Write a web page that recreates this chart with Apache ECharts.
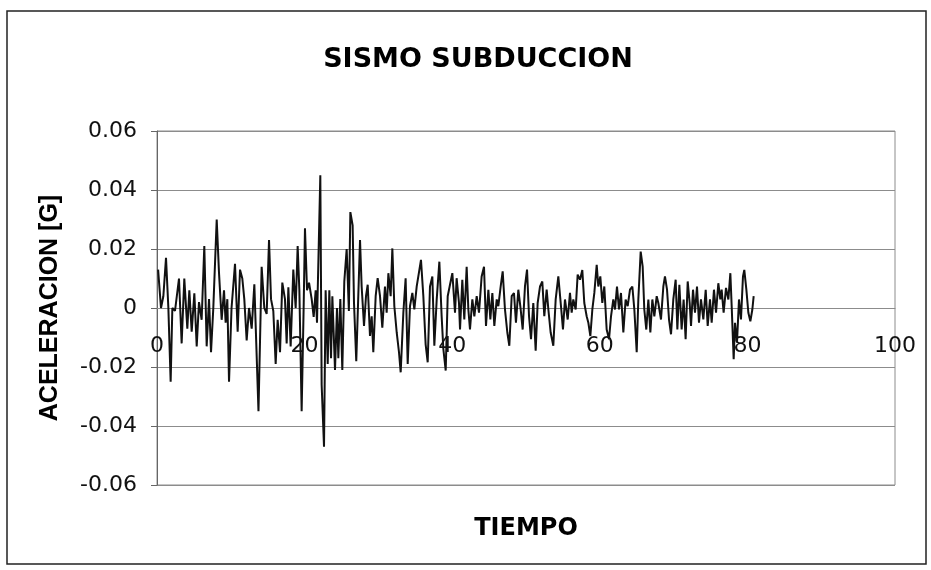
<!DOCTYPE html>
<html>
<head>
<meta charset="utf-8">
<script src="https://cdn.jsdelivr.net/npm/echarts@6/dist/echarts.min.js"></script>
<style>
  html, body { margin: 0; padding: 0; background: #ffffff; }
  #chart { width: 931px; height: 570px; }
</style>
</head>
<body>
<div id="chart"></div>
<script>
// Registro de aceleración: tiempo (s) y aceleración (g)
const tiempo = [
  0.15, 0.54, 0.86, 1.22, 1.54, 1.85, 2.08, 2.44, 2.98, 3.34,
  3.70, 4.11, 4.38, 4.70, 5.06, 5.38, 5.69, 6.05, 6.41, 6.73,
  7.05, 7.32, 7.63, 8.09, 8.40, 8.76, 9.08, 9.30, 9.53, 9.76,
  10.10, 10.57, 10.93, 11.25, 11.56, 11.83, 12.15, 12.47, 12.83, 13.19,
  13.75, 14.18, 14.54, 14.86, 15.18, 15.45, 15.76, 16.08, 16.35, 16.67,
  16.98, 17.34, 17.57, 17.80, 18.11, 18.47, 18.79, 19.06, 19.29, 19.60,
  19.87, 20.05, 20.33, 20.60, 20.96, 21.23, 21.50, 21.68, 22.13, 22.31,
  22.63, 22.85, 23.13, 23.35, 23.58, 23.76, 24.12, 24.39, 24.57, 24.84,
  25.11, 25.38, 25.70, 26.00, 26.20, 26.51, 26.69, 27.00, 27.51, 27.73,
  28.05, 28.32, 28.55, 28.86, 29.09, 29.31, 29.63, 29.90, 30.22, 30.53,
  30.89, 31.12, 31.35, 31.66, 31.89, 32.16, 32.48, 32.79, 33.02, 33.38,
  33.69, 33.97, 34.28, 34.60, 34.87, 35.19, 35.41, 35.77, 36.09, 36.40,
  36.68, 36.99, 37.31, 37.58, 37.90, 38.26, 38.57, 38.80, 39.12, 39.39,
  39.70, 40.02, 40.38, 40.60, 40.92, 41.06, 41.37, 41.64, 41.96, 42.19,
  42.41, 42.73, 43.00, 43.32, 43.63, 43.99, 44.31, 44.58, 44.90, 45.17,
  45.44, 45.71, 46.03, 46.25, 46.57, 46.84, 47.15, 47.47, 47.74, 48.06,
  48.37, 48.64, 48.96, 49.28, 49.55, 49.86, 50.14, 50.41, 50.68, 50.99,
  51.31, 51.58, 51.90, 52.21, 52.48, 52.80, 53.03, 53.34, 53.70, 54.02,
  54.38, 54.74, 55.01, 55.28, 55.65, 55.96, 56.19, 56.41, 56.73, 57.00,
  57.32, 57.63, 57.90, 58.22, 58.45, 58.72, 58.99, 59.26, 59.58, 59.80,
  60.07, 60.34, 60.61, 60.93, 61.25, 61.52, 61.83, 62.06, 62.33, 62.60,
  62.87, 63.19, 63.50, 63.78, 64.09, 64.41, 64.68, 65.00, 65.22, 65.54,
  65.81, 66.03, 66.30, 66.58, 66.85, 67.12, 67.39, 67.71, 67.93, 68.29,
  68.61, 68.83, 69.11, 69.38, 69.65, 69.96, 70.28, 70.51, 70.78, 71.09,
  71.36, 71.63, 71.91, 72.18, 72.36, 72.63, 72.90, 73.17, 73.44, 73.71,
  74.03, 74.35, 74.62, 74.93, 75.16, 75.47, 75.75, 76.06, 76.33, 76.51,
  76.78, 77.10, 77.42, 77.69, 77.87, 78.14, 78.32, 78.59, 78.86, 79.13,
  79.40, 79.58, 79.86, 80.13, 80.40, 80.67, 80.85
];

const aceleracion = [
  0.0130, 0.0000, 0.0040, 0.0170, 0.0000, -0.0250, 0.0000, -0.0010, 0.0100, -0.0120,
  0.0100, -0.0070, 0.0060, -0.0080, 0.0050, -0.0130, 0.0020, -0.0040, 0.0210, -0.0130,
  0.0030, -0.0150, 0.0000, 0.0300, 0.0120, -0.0040, 0.0060, -0.0050, 0.0030, -0.0250,
  0.0000, 0.0150, -0.0080, 0.0130, 0.0100, 0.0030, -0.0110, 0.0000, -0.0070, 0.0080,
  -0.0350, 0.0140, 0.0000, -0.0020, 0.0230, 0.0030, -0.0010, -0.0190, -0.0040, -0.0150,
  0.0086, 0.0030, -0.0120, 0.0070, -0.0130, 0.0130, 0.0000, 0.0210, 0.0060, -0.0350,
  0.0000, 0.0270, 0.0060, 0.0086, 0.0030, -0.0030, 0.0060, -0.0050, 0.0450, -0.0260,
  -0.0470, 0.0060, -0.0190, 0.0060, -0.0170, 0.0040, -0.0210, 0.0000, -0.0170, 0.0030,
  -0.0210, 0.0090, 0.0200, -0.0010, 0.0325, 0.0280, 0.0020, -0.0180, 0.0230, 0.0073,
  -0.0061, 0.0040, 0.0079, -0.0095, -0.0028, -0.0150, 0.0040, 0.0101, 0.0040, -0.0067,
  0.0073, -0.0016, 0.0118, 0.0040, 0.0202, 0.0006, -0.0083, -0.0150, -0.0218, -0.0016,
  0.0101, -0.0190, 0.0006, 0.0051, -0.0005, 0.0073, 0.0107, 0.0163, 0.0040, -0.0123,
  -0.0184, 0.0073, 0.0107, -0.0128, 0.0029, 0.0157, -0.0028, -0.0139, -0.0212, 0.0040,
  0.0079, 0.0118, -0.0016, 0.0101, 0.0017, -0.0073, 0.0096, -0.0039, 0.0140, -0.0005,
  -0.0073, 0.0029, -0.0028, 0.0040, -0.0016, 0.0107, 0.0140, -0.0061, 0.0062, -0.0039,
  0.0051, -0.0061, 0.0029, 0.0006, 0.0073, 0.0124, -0.0005, -0.0083, -0.0128, 0.0040,
  0.0051, -0.0050, 0.0062, -0.0005, -0.0073, 0.0073, 0.0130, -0.0028, -0.0106, 0.0017,
  -0.0145, 0.0017, 0.0073, 0.0090, -0.0028, 0.0062, -0.0005, -0.0083, -0.0128, 0.0029,
  0.0107, 0.0006, -0.0073, 0.0029, -0.0039, 0.0051, -0.0016, 0.0029, -0.0005, 0.0113,
  0.0096, 0.0129, 0.0017, -0.0028, -0.0050, -0.0095, -0.0005, 0.0051, 0.0146, 0.0073,
  0.0107, 0.0017, 0.0073, -0.0073, -0.0106, -0.0028, 0.0029, -0.0005, 0.0073, -0.0005,
  0.0051, -0.0083, 0.0029, 0.0006, 0.0062, 0.0073, -0.0005, -0.0150, 0.0029, 0.0191,
  0.0140, -0.0005, -0.0073, 0.0029, -0.0083, 0.0029, -0.0028, 0.0040, 0.0017, -0.0039,
  0.0073, 0.0107, 0.0062, -0.0039, -0.0089, 0.0029, 0.0096, -0.0073, 0.0079, -0.0073,
  0.0029, -0.0106, 0.0090, 0.0017, -0.0061, 0.0062, -0.0016, 0.0073, -0.0050, 0.0029,
  -0.0039, 0.0062, -0.0061, 0.0029, -0.0050, 0.0062, -0.0016, 0.0084, 0.0029, 0.0062,
  -0.0016, 0.0068, 0.0029, 0.0118, 0.0006, -0.0174, -0.0050, -0.0117, 0.0029, -0.0039,
  0.0107, 0.0129, 0.0062, -0.0016, -0.0045, -0.0005, 0.0040
];

const titulo = 'SISMO SUBDUCCION';
const nombreEjeX = 'TIEMPO';
const nombreEjeY = 'ACELERACION [G]';
const limitesX = [0, 100];
const pasoX = 20;
const limitesY = [-0.06, 0.06];
const pasoY = 0.02;

const fuenteTexto = '"DejaVu Sans", "Liberation Sans", Arial, sans-serif';
const fuenteEjeY = '"Liberation Sans", Arial, sans-serif';
const colorReja = '#8c8c8c';

// Marco del área de trazado (px)
const areaTop = 131, areaBottom = 85, alto = 570;
const areaAlto = alto - areaTop - areaBottom;
// El eje X cruza en aceleración = 0
const desplazamientoCero = -areaAlto * (0 - limitesY[0]) / (limitesY[1] - limitesY[0]);

const chart = echarts.init(document.getElementById('chart'), null, { renderer: 'canvas' });

chart.setOption({
  animation: false,
  backgroundColor: '#ffffff',
  title: {
    text: titulo,
    left: 473,
    top: 41,
    textAlign: 'center',
    textStyle: { fontFamily: fuenteTexto, fontSize: 27, fontWeight: 'bold', color: '#000' }
  },
  graphic: [{
    type: 'rect',
    shape: { x: 7, y: 11, width: 919, height: 553 },
    style: { fill: 'none', stroke: '#222', lineWidth: 1.5 },
    silent: true
  }],
  grid: {
    left: 157, right: 36, top: areaTop, bottom: areaBottom,
    outerBoundsMode: 'none',
    containLabel: false,
    show: true, borderColor: colorReja, borderWidth: 1, backgroundColor: 'transparent'
  },
  xAxis: {
    type: 'value',
    position: 'bottom',
    offset: desplazamientoCero,
    min: limitesX[0], max: limitesX[1], interval: pasoX,
    name: nombreEjeX,
    nameLocation: 'middle',
    nameGap: 209,
    nameTextStyle: { fontFamily: fuenteTexto, fontSize: 24, fontWeight: 'bold', color: '#000' },
    axisLine: { onZero: false, lineStyle: { color: colorReja, width: 1 } },
    axisTick: { show: false },
    splitLine: { show: false },
    axisLabel: { margin: 27, fontFamily: fuenteTexto, fontSize: 22, color: '#111' }
  },
  yAxis: {
    type: 'value',
    min: limitesY[0], max: limitesY[1], interval: pasoY,
    name: nombreEjeY,
    nameLocation: 'middle',
    nameGap: 94,
    nameRotate: 90,
    nameTextStyle: { fontFamily: fuenteEjeY, fontSize: 25, fontWeight: 'bold', color: '#000' },
    axisLine: { show: true, onZero: false, lineStyle: { color: '#666', width: 1 } },
    axisTick: { show: true, inside: false, length: 6, lineStyle: { color: '#666' } },
    splitLine: { show: true, lineStyle: { color: colorReja, width: 1 } },
    axisLabel: {
      margin: 20, fontFamily: fuenteTexto, fontSize: 22, color: '#111',
      formatter: v => String(+v.toFixed(2))
    }
  },
  series: [{
    type: 'line',
    data: tiempo.map((t, i) => [t, aceleracion[i]]),
    showSymbol: false,
    symbol: 'none',
    lineStyle: { color: '#111', width: 2 },
    z: 3
  }]
});
</script>
</body>
</html>
